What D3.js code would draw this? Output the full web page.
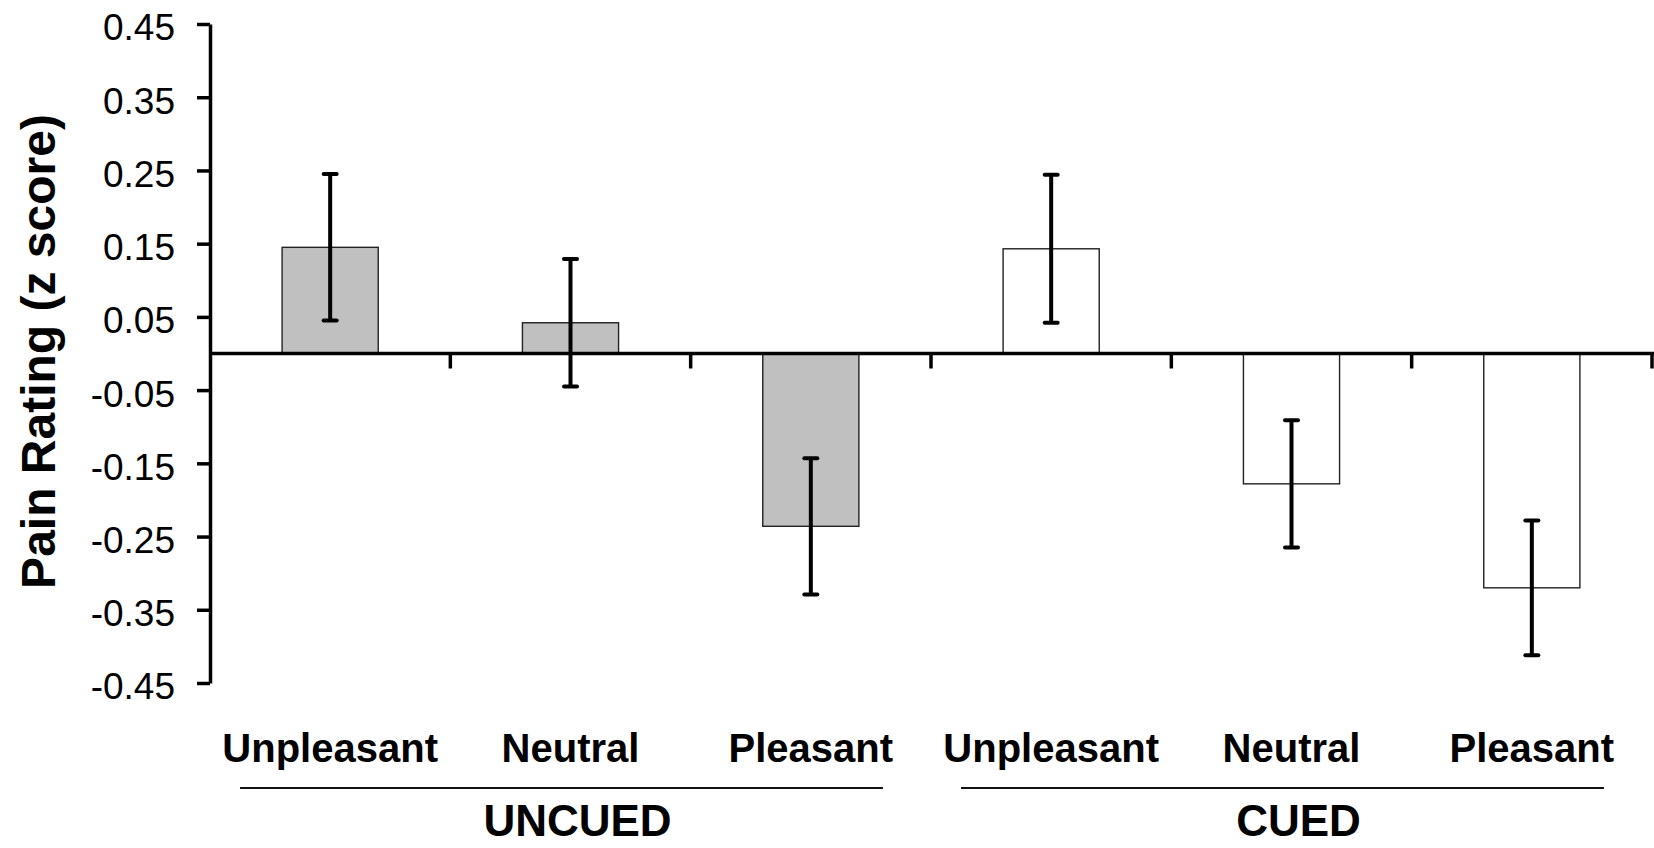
<!DOCTYPE html>
<html>
<head>
<meta charset="utf-8">
<script src="https://cdn.jsdelivr.net/npm/d3@7"></script>
<style>
  html, body { margin: 0; padding: 0; background: #fff; }
  svg { display: block; font-family: "Liberation Sans", Arial, sans-serif; }
</style>
</head>
<body>
<div id="barchart"></div>
<script>

// data
const groups = ["UNCUED", "CUED"]
const conditions = ["Unpleasant", "Neutral", "Pleasant"]
const uncuedMeans = [0.145, 0.042, -0.236]
const uncuedErrors = [0.100, 0.087, 0.093]
const cuedMeans = [0.143, -0.178, -0.320]
const cuedErrors = [0.101, 0.087, 0.092]
const groupFills = ["#c0c0c0", "#ffffff"]
const yTicks = [0.45, 0.35, 0.25, 0.15, 0.05, -0.05, -0.15, -0.25, -0.35, -0.45]
const yTickLabels = ["0.45", "0.35", "0.25", "0.15", "0.05", "-0.05", "-0.15", "-0.25", "-0.35", "-0.45"]

// set the dimensions and margins of the graph
const width = 1654, height = 848
const margin = {top: 24, right: 2, bottom: 165, left: 210}

const svg = d3.select("#barchart")
    .append("svg")
    .attr("width", width)
    .attr("height", height)

// one row per bar
var rows = []
groups.forEach(function (g, gi) {
    var means = gi == 0 ? uncuedMeans : cuedMeans
    var errs = gi == 0 ? uncuedErrors : cuedErrors
    conditions.forEach(function (c, ci) {
        rows.push({id: g + "-" + c, group: g, gi: gi, cond: c, mean: means[ci], err: errs[ci]})
    })
})

// x scale: one band per bar
const x = d3.scaleBand()
    .domain(rows.map(d => d.id))
    .range([margin.left, width - margin.right])
    .padding(0)
const bw = x.bandwidth()

// y scale
const y = d3.scaleLinear()
    .domain([-0.45, 0.45])
    .range([height - margin.bottom, margin.top])

// add the y Axis
const yAxis = svg.append("g")
    .attr("transform", "translate(" + margin.left + ",0)")
    .call(d3.axisLeft(y)
        .tickValues(yTicks)
        .tickFormat((d, i) => yTickLabels[i])
        .tickSize(13)
        .tickSizeOuter(0)
        .tickPadding(22))
yAxis.select(".domain").attr("stroke", "#000").attr("stroke-width", 3.5)
yAxis.selectAll(".tick line").attr("stroke", "#000").attr("stroke-width", 3.5)
yAxis.selectAll(".tick text")
    .attr("font-size", 37)
    .attr("font-family", "Liberation Sans, Arial, sans-serif")
    .attr("fill", "#000")
    .attr("dy", "0.43em")

// y title
svg.append("text")
    .attr("transform", "translate(55," + (y(0) - 2) + ") rotate(-90)")
    .attr("text-anchor", "middle")
    .attr("font-size", 48)
    .attr("font-weight", "bold")
    .attr("fill", "#000")
    .text("Pain Rating (z score)")

// bars
svg.selectAll(".bar")
    .data(rows)
    .join("rect")
    .attr("class", "bar")
    .attr("x", d => x(d.id) + bw * 0.3)
    .attr("width", bw * 0.4)
    .attr("y", d => y(Math.max(0, d.mean)))
    .attr("height", d => Math.abs(y(d.mean) - y(0)))
    .attr("fill", d => groupFills[d.gi])
    .attr("stroke", "#222")
    .attr("stroke-width", 1.4)

// zero line with category ticks
svg.append("line")
    .attr("x1", x.range()[0])
    .attr("x2", width)
    .attr("y1", y(0))
    .attr("y2", y(0))
    .attr("stroke", "#000")
    .attr("stroke-width", 3.5)

svg.selectAll(".xtick")
    .data(rows)
    .join("line")
    .attr("class", "xtick")
    .attr("x1", d => x(d.id) + bw)
    .attr("x2", d => x(d.id) + bw)
    .attr("y1", y(0))
    .attr("y2", y(0) + 15)
    .attr("stroke", "#000")
    .attr("stroke-width", 3.5)

// error bars
const eb = svg.selectAll(".err")
    .data(rows)
    .join("g")
    .attr("class", "err")
    .attr("transform", d => "translate(" + (x(d.id) + bw / 2) + ",0)")

eb.append("line")
    .attr("y1", d => y(d.mean + d.err))
    .attr("y2", d => y(d.mean - d.err))
    .attr("stroke", "#000")
    .attr("stroke-width", 4)

eb.selectAll(".cap")
    .data(d => [d.mean + d.err, d.mean - d.err])
    .join("line")
    .attr("class", "cap")
    .attr("x1", -6.5)
    .attr("x2", 6.5)
    .attr("y1", v => y(v))
    .attr("y2", v => y(v))
    .attr("stroke", "#000")
    .attr("stroke-width", 4)
    .attr("stroke-linecap", "round")

// category labels
svg.selectAll(".catlabel")
    .data(rows)
    .join("text")
    .attr("class", "catlabel")
    .attr("x", d => x(d.id) + bw / 2)
    .attr("y", 762)
    .attr("text-anchor", "middle")
    .attr("font-size", 40)
    .attr("font-weight", "bold")
    .attr("fill", "#000")
    .text(d => d.cond)

// group underline and labels
groups.forEach(function (g, gi) {
    var ids = rows.filter(d => d.group == g).map(d => d.id)
    var left = x(ids[0]) + bw * 0.125
    var right = x(ids[ids.length - 1]) + bw * 0.8
    var mid = (x(ids[0]) + x(ids[ids.length - 1]) + bw) / 2

    svg.append("line")
        .attr("x1", left)
        .attr("x2", right)
        .attr("y1", 788)
        .attr("y2", 788)
        .attr("stroke", "#111")
        .attr("stroke-width", 2)

    svg.append("text")
        .attr("x", mid + 7)
        .attr("y", 836)
        .attr("text-anchor", "middle")
        .attr("font-size", 44)
        .attr("font-weight", "bold")
        .attr("fill", "#000")
        .text(g)
})

</script>
</body>
</html>
